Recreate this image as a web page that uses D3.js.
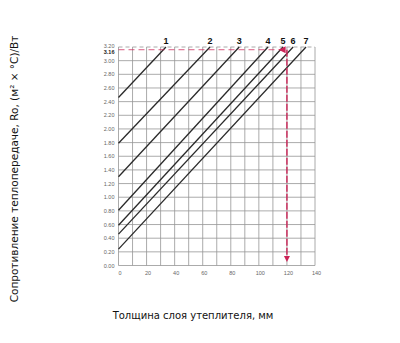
<!DOCTYPE html>
<html>
<head>
<meta charset="utf-8">
<script src="https://cdn.jsdelivr.net/npm/d3@7"></script>
<style>
  html, body { margin: 0; padding: 0; background: #fff; }
  svg { display: block; }
</style>
</head>
<body>
<div id="chart"></div>
<script>
// thickness ticks (mm) and resistance ticks
const xTickValues = [0, 20, 40, 60, 80, 100, 120, 140];
const xGridValues = d3.range(0, 141, 10);
const yTickValues = [0, 0.2, 0.4, 0.6, 0.8, 1.0, 1.2, 1.4, 1.6, 1.8, 2.0, 2.2, 2.4, 2.6, 2.8, 3.0, 3.2];

// lines: name, R at 0 mm, thickness where line reaches top (R = 3.2)
const lineNames = ["1", "2", "3", "4", "5", "6", "7"];
const lineStartR = [2.46, 1.79, 1.30, 0.81, 0.59, 0.46, 0.24];
const lineTopX = [33.8, 65.2, 86.0, 106.5, 117.2, 124.4, 133.6];

// marked example
const markR = 3.16;
const markX = 120;
const markPointX = 115.5;
const markArrowR = 0.05;

const width = 400, height = 343;

const x = d3.scaleLinear().domain([0, 140]).range([118.5, 315]);
const y = d3.scaleLinear().domain([0, 3.2]).range([265.5, 47]);

const svg = d3.select("#chart").append("svg")
	.attr("width", width)
	.attr("height", height);

// grid
const grid = svg.append("g").attr("stroke", "#959595").attr("stroke-width", 0.8);
grid.selectAll("line.v")
	.data(xGridValues)
	.join("line")
	.attr("class", "v")
	.attr("x1", d => x(d)).attr("x2", d => x(d))
	.attr("y1", y(0)).attr("y2", y(3.2));
grid.selectAll("line.h")
	.data(yTickValues)
	.join("line")
	.attr("class", "h")
	.attr("x1", x(0)).attr("x2", x(140))
	.attr("y1", d => y(d)).attr("y2", d => y(d))
	.attr("stroke-dasharray", d => d === 3.2 ? "4,3" : null);

// y tick labels
svg.append("g")
	.selectAll("text")
	.data(yTickValues)
	.join("text")
	.attr("x", x(0) - 4)
	.attr("y", d => y(d) + (d === 3.2 ? 0.5 : 2))
	.attr("text-anchor", "end")
	.attr("font-family", "Liberation Sans, Arial, sans-serif")
	.attr("font-size", 5.5)
	.attr("fill", "#666")
	.text(d => d.toFixed(2));

// 3.16 label
svg.append("text")
	.attr("x", x(0) - 4)
	.attr("y", y(markR) + 4.5)
	.attr("text-anchor", "end")
	.attr("font-family", "Liberation Sans, Arial, sans-serif")
	.attr("font-size", 5.5)
	.attr("font-weight", "bold")
	.attr("fill", "#222")
	.text(markR.toFixed(2));

// x tick labels
svg.append("g")
	.selectAll("text")
	.data(xTickValues)
	.join("text")
	.attr("x", d => x(d) + 1.5)
	.attr("y", y(0) + 9)
	.attr("text-anchor", "middle")
	.attr("font-family", "Liberation Sans, Arial, sans-serif")
	.attr("font-size", 5.5)
	.attr("fill", "#666")
	.text(d => d);

// diagonal lines
const lines = lineNames.map((name, i) => ({
	name: name,
	pts: [[0, lineStartR[i]], [lineTopX[i], 3.2]]
}));

const lineGen = d3.line().x(d => x(d[0])).y(d => y(d[1]));

svg.append("g")
	.selectAll("path")
	.data(lines)
	.join("path")
	.attr("d", d => lineGen(d.pts))
	.attr("fill", "none")
	.attr("stroke", "#2a2a2a")
	.attr("stroke-width", 1.3);

svg.append("g")
	.selectAll("text")
	.data(lines)
	.join("text")
	.attr("x", d => x(d.pts[1][0]))
	.attr("y", y(3.2) - 3)
	.attr("text-anchor", "middle")
	.attr("font-family", "Liberation Sans, Arial, sans-serif")
	.attr("font-size", 9)
	.attr("font-weight", "bold")
	.attr("fill", "#111")
	.text(d => d.name);

// red marking
const red = "#cc2457";
svg.append("line")
	.attr("x1", x(0)).attr("x2", x(markX))
	.attr("y1", y(markR)).attr("y2", y(markR))
	.attr("stroke", red).attr("stroke-width", 1)
	.attr("stroke-dasharray", "6,4")
	.attr("opacity", 0.75);

svg.append("line")
	.attr("x1", x(markX)).attr("x2", x(markX))
	.attr("y1", y(markR)).attr("y2", y(markArrowR) - 5)
	.attr("stroke", red).attr("stroke-width", 1.4)
	.attr("stroke-dasharray", "7,2");

// arrowhead at axis
const ax = x(markX), ay = y(markArrowR);
svg.append("path")
	.attr("d", `M${ax - 3},${ay - 6}L${ax + 3},${ay - 6}L${ax},${ay}Z`)
	.attr("fill", red);

// arrowhead at intersection with line 5
const px = x(markPointX), py = y(markR);
svg.append("path")
	.attr("d", `M${px - 2},${py}L${px + 5},${py - 3.5}L${px + 5},${py + 3.5}Z`)
	.attr("fill", red);

// axis titles
svg.append("text")
	.attr("x", 193)
	.attr("y", 319)
	.attr("text-anchor", "middle")
	.attr("font-family", "DejaVu Sans, sans-serif")
	.attr("font-size", 10)
	.attr("fill", "#111")
	.text("Толщина слоя утеплителя, мм");

svg.append("text")
	.attr("transform", "translate(18,169) rotate(-90)")
	.attr("text-anchor", "middle")
	.attr("font-family", "DejaVu Sans, sans-serif")
	.attr("font-size", 10.5)
	.attr("fill", "#111")
	.text("Сопротивление теплопередаче, Ro, (м² × °C)/Вт");
</script>
</body>
</html>
